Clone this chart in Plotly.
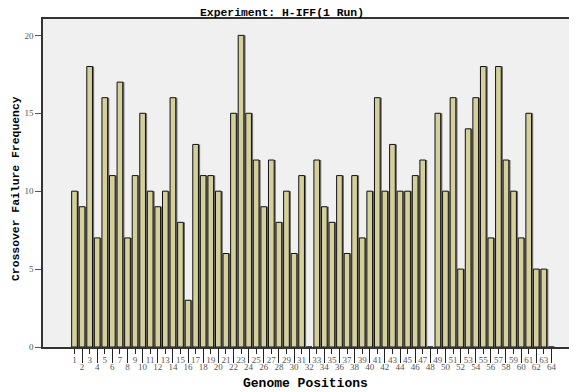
import plotly.graph_objects as go

positions = list(range(1, 65))
frequency = [10, 9, 18, 7, 16, 11, 17, 7, 11, 15, 10, 9, 10, 16, 8, 3,
             13, 11, 11, 10, 6, 15, 20, 15, 12, 9, 12, 8, 10, 6, 11, 0,
             12, 9, 8, 11, 6, 11, 7, 10, 16, 10, 13, 10, 10, 11, 12, 0,
             15, 10, 16, 5, 14, 16, 18, 7, 18, 12, 10, 7, 15, 5, 5, 0]
y_ticks = [0, 5, 10, 15, 20]
title_text = "Experiment: H-IFF(1 Run)"
x_title = "Genome Positions"
y_title = "Crossover Failure Frequency"

odd_pos = [p for p in positions if p % 2 == 1]
even_pos = [p for p in positions if p % 2 == 0]

# page body has an 8px margin; work in figure coordinates
OFF = 8
W, H = 577 - OFF, 392 - OFF
L, R, T, B = 43 - OFF, 0, 19 - OFF, 392 - 347
pw = W - L - R
ph = H - T - B

fig = go.Figure()
bw = 0.75
# shadow
fig.add_trace(go.Bar(x=positions, y=frequency, width=bw, offset=-bw / 2 + 0.22,
                     marker=dict(color="#6f6f6f", line=dict(width=0)),
                     hoverinfo="skip", showlegend=False))
fig.add_trace(go.Bar(x=positions, y=frequency, width=bw, offset=-bw / 2,
                     marker=dict(color="#d4cf9b", line=dict(color="#111111", width=1)),
                     showlegend=False))
fig.add_trace(go.Scatter(x=[positions[0]], y=[0], xaxis="x2", mode="markers",
                         marker=dict(opacity=0), hoverinfo="skip", showlegend=False))

tick_font = dict(family="Liberation Serif", size=9, color="#555555")
xr = [-3.16, 67.38]

fig.update_layout(
    width=W, height=H,
    margin=dict(l=L, r=R, t=T, b=B, autoexpand=False),
    barmode="overlay",
    paper_bgcolor="white",
    plot_bgcolor="#f0f0f0",
    title=dict(text=title_text, x=(282 - OFF) / W, xref="container", y=1 - (12.3 - OFF) / H,
               yref="container", xanchor="center", yanchor="middle", automargin=False,
               font=dict(family="Liberation Mono", size=11.4, color="black", weight="bold")),
    xaxis=dict(range=xr, tickmode="array", tickvals=odd_pos, automargin=False,
               ticktext=[str(p) for p in odd_pos], ticks="outside", ticklen=5,
               tickcolor="#222222", tickwidth=1, tickfont=tick_font, ticklabelstandoff=-2,
               showgrid=False, zeroline=False, showline=True, linecolor="#333333",
               linewidth=1.5, mirror=True, tickangle=0),
    xaxis2=dict(range=xr, overlaying="x", anchor="y", side="bottom", matches="x",
                tickmode="array", tickvals=even_pos, automargin=False,
                ticktext=[str(p) for p in even_pos], ticks="outside", ticklen=15,
                tickcolor="#222222", tickwidth=1, tickfont=tick_font, ticklabelstandoff=-4,
                showgrid=False, zeroline=False, showline=False, tickangle=0),
    yaxis=dict(range=[0, 21.05], tickmode="array", tickvals=y_ticks, automargin=False,
               ticks="outside", ticklen=6, tickcolor="#555555", tickfont=tick_font,
               showgrid=False, zeroline=False, showline=True, linecolor="#333333",
               linewidth=1.5),
    annotations=[
        dict(text=x_title, xref="paper", yref="paper", x=(305 - 43) / pw,
             y=-(383 - 347) / ph, xanchor="center", yanchor="middle",
             showarrow=False,
             font=dict(family="Liberation Mono", size=13, color="black", weight="bold")),
        dict(text=y_title, xref="paper", yref="paper", x=(16 - 43) / pw,
             y=(347 - 189) / ph, xanchor="center", yanchor="middle",
             textangle=-90, showarrow=False,
             font=dict(family="Liberation Mono", size=11.4, color="black", weight="bold")),
    ],
)

fig.write_html("out.html")
